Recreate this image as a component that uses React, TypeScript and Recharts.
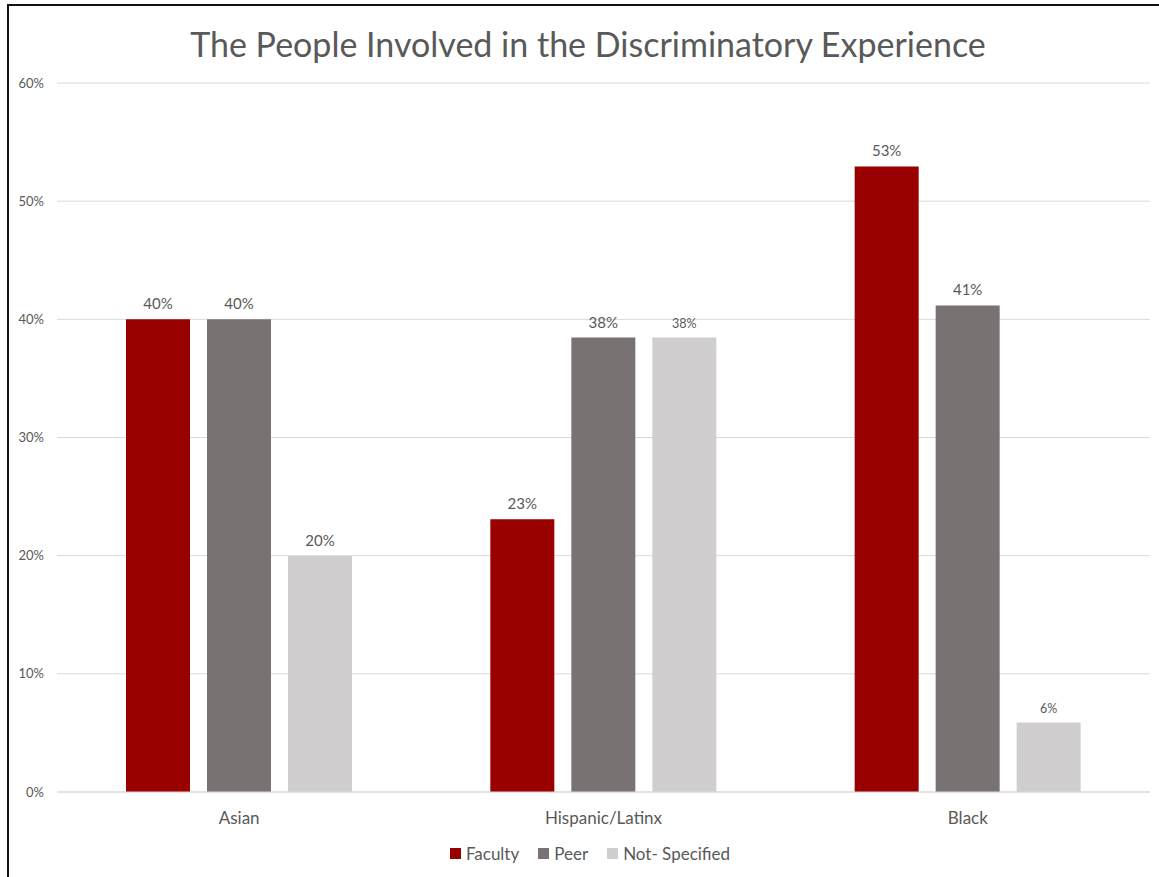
import { BarChart, Bar, XAxis, YAxis, CartesianGrid, Legend, LabelList } from "recharts";

const groups = ["Asian", "Hispanic/Latinx", "Black"];
const faculty = [40, 23.08, 52.94];
const peer = [40, 38.46, 41.18];
const notSpecified = [20, 38.46, 5.88];
const yTicks = [0, 10, 20, 30, 40, 50, 60];

const SERIES = [
  { key: "faculty", name: "Faculty", color: "#990000" },
  { key: "peer", name: "Peer", color: "#787372" },
  { key: "notSpecified", name: "Not- Specified", color: "#D0CECE" },
];

const FONT = "Lato, 'Open Sans', sans-serif";
const TEXT = "#595959";

const data = groups.map((g, i) => ({
  group: g,
  faculty: faculty[i],
  peer: peer[i],
  notSpecified: notSpecified[i],
}));

function makeLabel(small: boolean[]) {
  return (props: any) => {
    const { x, y, width, value, index } = props;
    const sm = small[index];
    return (
      <text x={x + width / 2} y={y - 10} textAnchor="middle" fill={TEXT}
        fontSize={sm ? 12.5 : 15} fontFamily={FONT}>
        {Math.round(value) + "%"}
      </text>
    );
  };
}

function LegendBox() {
  return (
    <div style={{ display: "flex", justifyContent: "center", gap: 19, fontFamily: FONT, fontSize: 17, color: TEXT, paddingLeft: 30 }}>
      {SERIES.map((s) => (
        <div key={s.key} style={{ display: "flex", alignItems: "center", gap: 5 }}>
          <span style={{ width: 11, height: 11, background: s.color, display: "inline-block" }} />
          {s.name}
        </div>
      ))}
    </div>
  );
}

export default function App() {
  return (
    <div style={{ position: "fixed", left: 0, top: 0, width: 1159, height: 877, background: "#fff", overflow: "hidden" }}>
      <div style={{ position: "absolute", left: 7, top: 4, width: 1160, height: 880, borderLeft: "2px solid #111", borderTop: "2px solid #111" }} />
      <div style={{ position: "absolute", left: 0, top: 23, width: 1176, textAlign: "center", fontFamily: FONT, fontSize: 34, color: TEXT }}>
        The People Involved in the Discriminatory Experience
      </div>
      <div style={{ position: "absolute", left: 0, top: 0 }}>
        <BarChart width={1159} height={877} data={data}
          margin={{ top: 83, right: 9, left: 0, bottom: 35 }}
          barSize={64} barGap={17}>
          <CartesianGrid vertical={false} stroke="#D9D9D9" />
          <XAxis dataKey="group" axisLine={{ stroke: "#D9D9D9" }} tickLine={false} tickMargin={14}
            tick={{ fill: TEXT, fontSize: 17, fontFamily: FONT }} />
          <YAxis domain={[0, 60]} ticks={yTicks} width={57} axisLine={false} tickLine={false} tickMargin={7}
            tickFormatter={(v) => v + "%"} tick={{ fill: TEXT, fontSize: 13, fontFamily: FONT }} />
          <Legend verticalAlign="bottom" content={() => <LegendBox />}
            wrapperStyle={{ height: 20, top: 843, bottom: "auto" }} />
          <Bar dataKey="faculty" name="Faculty" fill="#990000" isAnimationActive={false}>
            <LabelList dataKey="faculty" content={makeLabel([false, false, false])} />
          </Bar>
          <Bar dataKey="peer" name="Peer" fill="#787372" isAnimationActive={false}>
            <LabelList dataKey="peer" content={makeLabel([false, false, false])} />
          </Bar>
          <Bar dataKey="notSpecified" name="Not- Specified" fill="#D0CECE" isAnimationActive={false}>
            <LabelList dataKey="notSpecified" content={makeLabel([false, true, true])} />
          </Bar>
        </BarChart>
      </div>
    </div>
  );
}
